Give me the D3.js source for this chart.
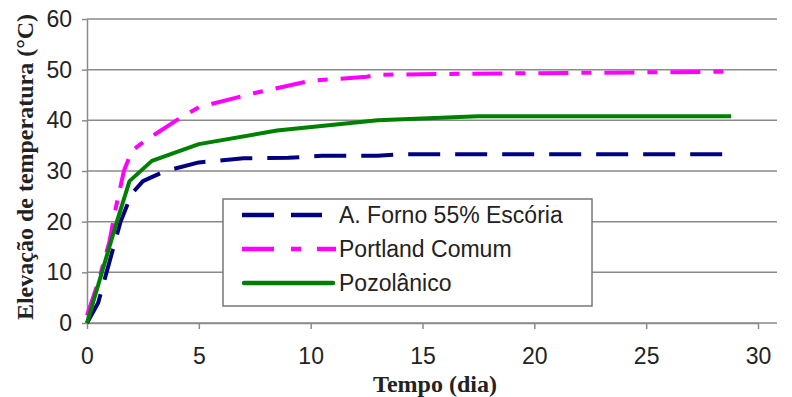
<!DOCTYPE html>
<html>
<head>
<meta charset="utf-8">
<script src="https://cdn.jsdelivr.net/npm/d3@7"></script>
<style>
  body { margin: 0; background: #fff; }
  svg text { font-family: "Liberation Sans", Arial, sans-serif; fill: #222; }
  .axis-title { font-family: "Liberation Serif", "Times New Roman", serif; font-weight: bold; }
</style>
</head>
<body>
<div id="chart"></div>
<script>
// values
let xTicks = [0, 5, 10, 15, 20, 25, 30];
let yTicks = [0, 10, 20, 30, 40, 50, 60];

let fornoX = [0, 0.5, 1, 1.5, 2, 2.5, 3.5, 5, 7, 9, 10.5, 13, 14, 28.8];
let fornoY = [0, 4, 12, 20, 25.5, 28, 30, 31.7, 32.5, 32.6, 33, 33, 33.3, 33.3];

let portlandX = [0, 0.5, 1, 1.3, 1.65, 2, 2.6, 3.2, 4, 5, 7.5, 10, 12.5, 13, 17, 28.8];
let portlandY = [1.5, 8, 16, 23, 30, 34, 36, 37.7, 40, 42.6, 45.4, 47.8, 48.6, 49, 49.2, 49.6];

let pozoX = [0, 1.3, 1.9, 2.9, 5, 8.5, 13, 17.5, 28.8];
let pozoY = [0, 19.5, 28, 32, 35.3, 38, 40, 40.8, 40.8];

let seriesNames = ['A. Forno 55% Escória', 'Portland Comum', 'Pozolânico'];

(function() {
  let width = 792;
  let height = 397;
  let margin = {top: 19, left: 87};
  let plotW = 758 - margin.left;
  let plotH = 323 - margin.top;
  let gridEnd = 777 - margin.left;

  let svg = d3.select('#chart').append('svg')
    .attr('width', width)
    .attr('height', height);

  let g = svg.append('g')
    .attr('transform', `translate(${margin.left},${margin.top})`);

  let x = d3.scaleLinear().domain([0, 30]).range([0, plotW]);
  let y = d3.scaleLinear().domain([0, 60]).range([plotH, 0]);

  // grid lines, running a bit past the last x tick like the original
  g.append('g')
    .selectAll('line')
    .data(yTicks)
    .enter().append('line')
      .attr('x1', 0)
      .attr('x2', gridEnd)
      .attr('y1', d => y(d))
      .attr('y2', d => y(d))
      .style('stroke', '#8a8a8a')
      .style('stroke-width', 1.5);

  let yAxis = d3.axisLeft(y)
    .tickValues(yTicks)
    .tickSizeInner(5)
    .tickSizeOuter(0)
    .tickPadding(10);

  let xAxis = d3.axisBottom(x)
    .tickValues(xTicks)
    .tickSizeInner(6)
    .tickSizeOuter(0)
    .tickPadding(19);

  g.append('g').attr('class', 'y axis').call(yAxis);
  g.append('g').attr('class', 'x axis')
    .attr('transform', `translate(0, ${plotH})`)
    .call(xAxis);

  g.selectAll('.axis .domain, .axis line')
    .style('stroke', '#8a8a8a')
    .style('stroke-width', 1.5);
  g.selectAll('.axis text')
    .style('font-size', '23px')
    .style('fill', '#222');

  let line = d3.line()
    .x(d => x(d[0]))
    .y(d => y(d[1]));

  let series = [
    {name: seriesNames[0], pts: d3.zip(fornoX, fornoY), color: '#000080', dash: '32,15', legDash: '32,17', legEnd: 99},
    {name: seriesNames[1], pts: d3.zip(portlandX, portlandY), color: '#ff00ff', dash: '30,13,10,13', legDash: '32,17,10,16', legEnd: 113},
    {name: seriesNames[2], pts: d3.zip(pozoX, pozoY), color: '#008000', dash: null, legDash: null, legEnd: 110}
  ];

  g.selectAll('.serie')
    .data(series)
    .enter().append('path')
      .attr('class', 'serie')
      .attr('d', d => line(d.pts))
      .style('fill', 'none')
      .style('stroke', d => d.color)
      .style('stroke-width', 4)
      .style('stroke-linejoin', 'round')
      .style('stroke-dasharray', d => d.dash);

  // legend
  let legend = svg.append('g').attr('transform', 'translate(223, 199)');
  legend.append('rect')
    .attr('width', 369)
    .attr('height', 107)
    .style('fill', '#fff')
    .style('stroke', '#777')
    .style('stroke-width', 1.5);

  let rows = legend.selectAll('.row')
    .data(series)
    .enter().append('g')
      .attr('class', 'row')
      .attr('transform', (d, i) => `translate(0, ${16 + i * 34})`);

  rows.append('line')
    .attr('x1', d => d.legDash ? 19 : 21)
    .attr('x2', d => d.legEnd)
    .style('stroke', d => d.color)
    .style('stroke-width', 4.5)
    .style('stroke-linecap', d => d.legDash ? 'butt' : 'round')
    .style('stroke-dasharray', d => d.legDash);

  rows.append('text')
    .attr('x', 116)
    .attr('y', 8)
    .style('font-size', '23px')
    .style('fill', '#222')
    .text(d => d.name);

  svg.append('text')
    .attr('class', 'axis-title')
    .attr('transform', 'rotate(-90)')
    .attr('x', -167)
    .attr('y', 33)
    .style('text-anchor', 'middle')
    .style('font-size', '24px')
    .text('Elevação de temperatura (°C)');

  svg.append('text')
    .attr('class', 'axis-title')
    .attr('x', 435)
    .attr('y', 392)
    .style('text-anchor', 'middle')
    .style('font-size', '24px')
    .text('Tempo (dia)');
})();
</script>
</body>
</html>
